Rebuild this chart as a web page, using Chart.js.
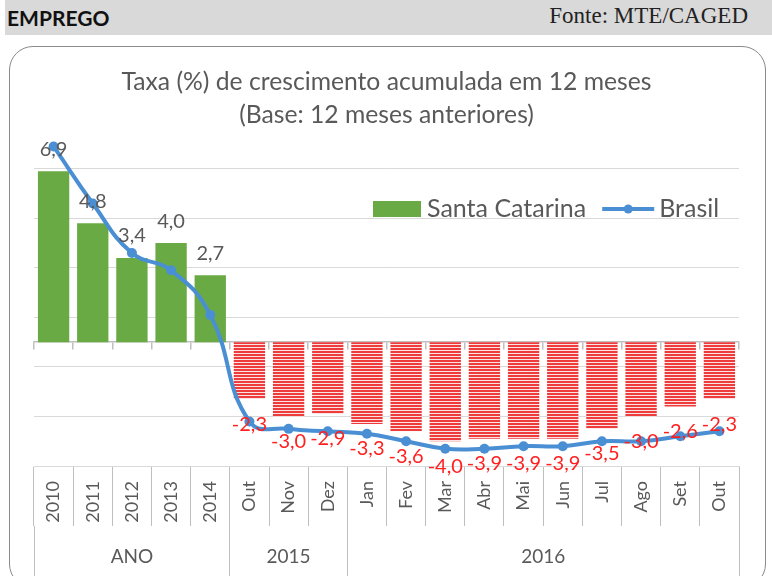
<!DOCTYPE html>
<html lang="pt-BR">
<head>
<meta charset="utf-8">
<script src="https://cdn.jsdelivr.net/npm/chart.js@4.4.1/dist/chart.umd.min.js"></script>
<style>
    html, body { margin: 0; padding: 0; background: #fff; }
    body { width: 772px; height: 576px; position: relative; overflow: hidden; }
    .cabecalho {
        position: absolute; left: 5px; top: 0; width: 767px; height: 35px;
        background: #D9D9D9;
    }
    .cabecalho .secao {
        position: absolute; left: 2px; top: 5px;
        font: bold 21px 'Lato', sans-serif; color: #111;
    }
    .cabecalho .fonte {
        position: absolute; right: 24px; top: 3px;
        font: 23px 'Liberation Serif', serif; color: #222;
    }
    .moldura {
        position: absolute; left: 9px; top: 46px; width: 755px; height: 540px;
        border: 1.5px solid #8a8a8a; border-radius: 24px;
    }
    #graficoEmprego { position: absolute; left: 0; top: 0; }
</style>
</head>
<body>
<div class="cabecalho">
    <span class="secao">EMPREGO</span>
    <span class="fonte">Fonte: MTE/CAGED</span>
</div>
<div class="moldura"></div>
<canvas id="graficoEmprego" width="772" height="576"></canvas>

<script>
const categorias = ['2010', '2011', '2012', '2013', '2014', 'Out', 'Nov', 'Dez', 'Jan', 'Fev', 'Mar', 'Abr', 'Mai', 'Jun', 'Jul', 'Ago', 'Set', 'Out'];
const santaCatarina = [6.9, 4.8, 3.4, 4.0, 2.7, -2.3, -3.0, -2.9, -3.3, -3.6, -4.0, -3.9, -3.9, -3.9, -3.5, -3.0, -2.6, -2.3];
const brasil = [7.9, 5.6, 3.6, 2.9, 1.1, -3.2, -3.5, -3.6, -3.7, -4.0, -4.3, -4.3, -4.2, -4.2, -4.0, -4.0, -3.8, -3.6];
const grupos = ['ANO', '2015', '2016'];
const tamanhoGrupos = [5, 3, 10];
const ticksY = [-5, -3, -1, 1, 3, 5, 7];

const VERDE = '#6AAA45';
const AZUL = '#4A8FD3';
const CINZA_TEXTO = '#595959';
const FONTE = "'Lato', sans-serif";

// centros e limites dos grupos do eixo inferior
const centrosGrupos = [];
const limitesGrupos = [-0.5];
let inicio = 0;
tamanhoGrupos.forEach((n) => {
    centrosGrupos.push(inicio + (n - 1) / 2);
    inicio += n;
    limitesGrupos.push(inicio - 0.5);
});

function formatar(v) {
    return v.toFixed(1).replace('.', ',');
}

function criarListrado(ctx) {
    const c = document.createElement('canvas');
    c.width = 4;
    c.height = 3;
    const g = c.getContext('2d');
    g.fillStyle = '#FCE3E3';
    g.fillRect(0, 0, 4, 3);
    g.fillStyle = '#EE3C3C';
    g.fillRect(0, 0, 4, 2);
    return ctx.createPattern(c, 'repeat');
}

const rotulosBarras = {
    id: 'rotulosBarras',
    afterDatasetsDraw(chart) {
        const ctx = chart.ctx;
        const meta = chart.getDatasetMeta(0);
        ctx.save();
        ctx.font = '20px ' + FONTE;
        ctx.textAlign = 'center';
        ctx.textBaseline = 'middle';
        meta.data.forEach((barra, i) => {
            const v = santaCatarina[i];
            if (v >= 0) {
                ctx.fillStyle = CINZA_TEXTO;
                ctx.fillText(formatar(v), barra.x, barra.y - 22);
            } else {
                ctx.fillStyle = '#FF1F1F';
                ctx.fillText(formatar(v), barra.x, barra.y + 25);
            }
        });
        ctx.restore();
    }
};

const legendaInterna = {
    id: 'legendaInterna',
    afterDraw(chart) {
        const ctx = chart.ctx;
        const x0 = 373, y0 = 209;
        ctx.save();
        ctx.font = '25px ' + FONTE;
        ctx.textBaseline = 'middle';
        ctx.fillStyle = VERDE;
        ctx.fillRect(x0, y0 - 8, 48, 16);
        ctx.fillStyle = CINZA_TEXTO;
        ctx.fillText(chart.data.datasets[0].label, x0 + 54, y0);
        let x = x0 + 54 + ctx.measureText(chart.data.datasets[0].label).width + 16;
        ctx.strokeStyle = AZUL;
        ctx.lineWidth = 4;
        ctx.beginPath();
        ctx.moveTo(x, y0);
        ctx.lineTo(x + 52, y0);
        ctx.stroke();
        ctx.fillStyle = AZUL;
        ctx.beginPath();
        ctx.arc(x + 26, y0, 4.5, 0, Math.PI * 2);
        ctx.fill();
        ctx.fillStyle = CINZA_TEXTO;
        ctx.fillText(chart.data.datasets[1].label, x + 57, y0);
        ctx.restore();
    }
};

document.addEventListener('DOMContentLoaded', () => {
    const canvas = document.getElementById('graficoEmprego');
    const ctx = canvas.getContext('2d');
    const listrado = criarListrado(ctx);

    new Chart(ctx, {
        type: 'bar',
        data: {
            labels: categorias,
            datasets: [
                {
                    label: 'Santa Catarina',
                    data: santaCatarina,
                    backgroundColor: (c) => (c.raw >= 0 ? VERDE : listrado),
                    barPercentage: 0.8,
                    categoryPercentage: 1,
                    xAxisID: 'x',
                    yAxisID: 'y',
                    order: 2
                },
                {
                    type: 'line',
                    label: 'Brasil',
                    data: brasil,
                    borderColor: AZUL,
                    backgroundColor: AZUL,
                    borderWidth: 4,
                    pointRadius: 5,
                    pointBorderWidth: 0,
                    pointBackgroundColor: AZUL,
                    tension: 0.45,
                    clip: false,
                    xAxisID: 'x',
                    yAxisID: 'y',
                    order: 1
                }
            ]
        },
        options: {
            responsive: false,
            animation: false,
            layout: { padding: { left: 34, right: 33, top: 0, bottom: 0 } },
            plugins: {
                legend: { display: false },
                tooltip: { enabled: false },
                title: {
                    display: true,
                    text: ['Taxa (%) de crescimento acumulada em 12 meses', '(Base: 12 meses anteriores)'],
                    color: CINZA_TEXTO,
                    font: { family: FONTE, size: 24.7, weight: 'normal', lineHeight: 1.34 },
                    padding: { top: 65.5, bottom: 12.3 }
                }
            },
            scales: {
                x: {
                    type: 'category',
                    position: 'bottom',
                    grid: {
                        offset: true,
                        drawOnChartArea: false,
                        tickLength: 60,
                        color: '#BFBFBF'
                    },
                    border: { color: '#D9D9D9' },
                    ticks: {
                        minRotation: 90,
                        maxRotation: 90,
                        autoSkip: false,
                        padding: -45,
                        color: CINZA_TEXTO,
                        font: { family: FONTE, size: 18 }
                    },
                    afterFit: (s) => { s.height = 60; }
                },
                x0: {
                    type: 'category',
                    position: { y: 0 },
                    grid: {
                        offset: true,
                        drawOnChartArea: false,
                        tickLength: 7,
                        color: '#BFBFBF',
                        lineWidth: 1.5
                    },
                    border: { color: '#BFBFBF', width: 1.5 },
                    ticks: { display: false }
                },
                x2: {
                    type: 'linear',
                    position: 'bottom',
                    min: -0.5,
                    max: 17.5,
                    offset: false,
                    afterBuildTicks: (s) => {
                        s.ticks = limitesGrupos.concat(centrosGrupos)
                            .sort((a, b) => a - b)
                            .map((v) => ({ value: v }));
                    },
                    grid: {
                        offset: false,
                        drawOnChartArea: false,
                        tickLength: 50,
                        color: (c) => (c.tick && limitesGrupos.includes(c.tick.value) ? '#BFBFBF' : 'rgba(0,0,0,0)')
                    },
                    border: { display: false },
                    ticks: {
                        autoSkip: false,
                        maxRotation: 0,
                        padding: -31,
                        color: CINZA_TEXTO,
                        font: { family: FONTE, size: 19 },
                        callback: (v) => {
                            const i = centrosGrupos.indexOf(v);
                            return i >= 0 ? grupos[i] : '';
                        }
                    },
                    afterFit: (s) => { s.height = 50; }
                },
                y: {
                    min: -5,
                    max: 8,
                    afterBuildTicks: (s) => {
                        s.ticks = ticksY.map((v) => ({ value: v }));
                    },
                    grid: { color: '#D9D9D9', drawTicks: false },
                    border: { display: false },
                    ticks: { display: false }
                }
            }
        },
        plugins: [rotulosBarras, legendaInterna]
    });
});
</script>
</body>
</html>
